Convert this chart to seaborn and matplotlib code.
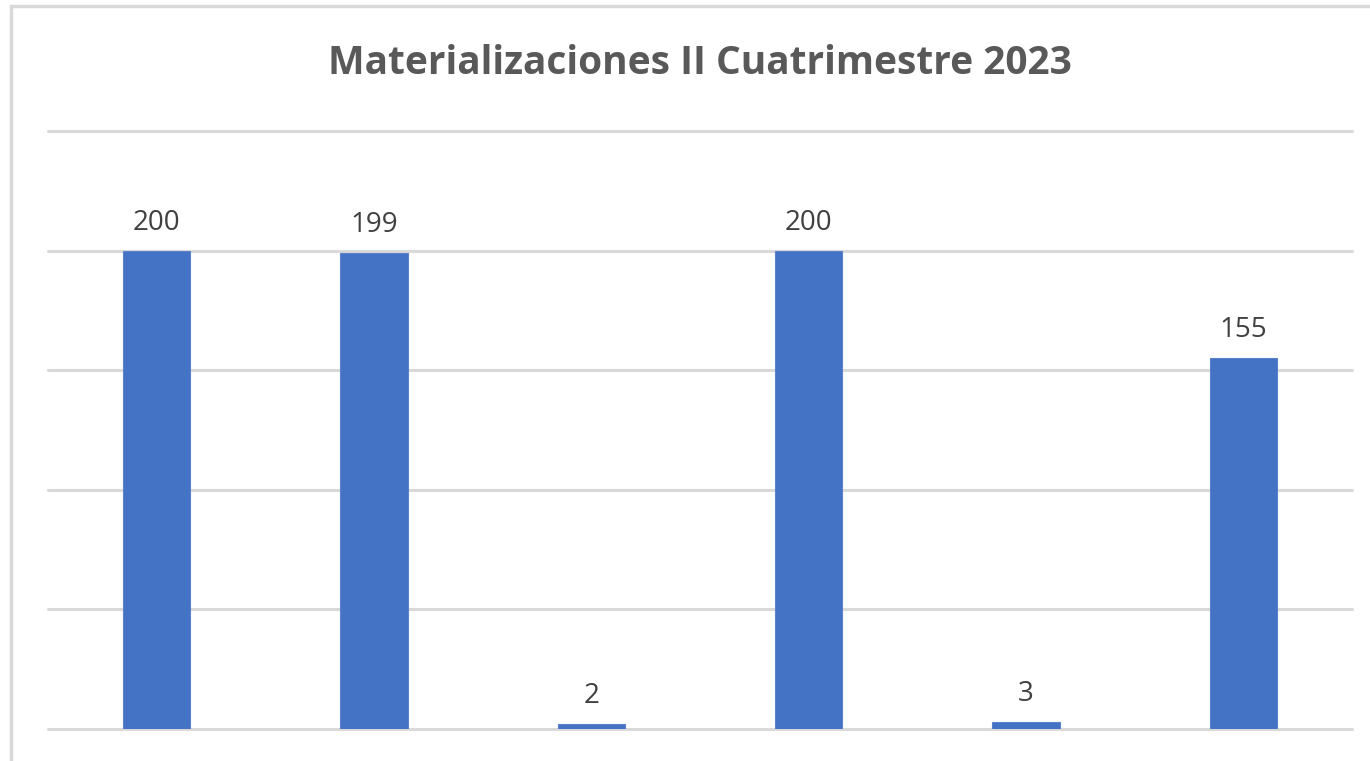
import pandas as pd
import matplotlib.pyplot as plt
import seaborn as sns
from matplotlib.patches import Rectangle

# values (no category labels shown in the original)
categorias = ["c1", "c2", "c3", "c4", "c5", "c6"]
valores = [200, 199, 2, 200, 3, 155]
titulo = "Materializaciones II Cuatrimestre 2023"

sns.set_style("white")
plt.rcParams['font.family'] = ['Open Sans', 'DejaVu Sans']

df = pd.DataFrame({'cat': categorias, 'val': valores})

fig = plt.figure(figsize=(13.7, 7.61), dpi=100)
ax = fig.add_axes([48 / 1370, 1 - 729 / 761, 1304 / 1370, 598 / 761])

sns.barplot(data=df, x='cat', y='val', color='#4472C4', saturation=1,
            width=0.31, ax=ax, zorder=3, edgecolor='#5b83cc', linewidth=0.8)

ax.set_ylim(0, 250)
ax.set_yticks([0, 50, 100, 150, 200, 250])
ax.yaxis.grid(True, color='#d9d9d9', linewidth=2.2, zorder=0)
for gl in ax.get_ygridlines():
    gl.set_clip_on(False)
ax.set_axisbelow(True)
ax.set_xlabel('')
ax.set_ylabel('')
ax.set_xticklabels([])
ax.set_yticklabels([])
ax.tick_params(length=0)
sns.despine(ax=ax, left=True, bottom=True, top=True, right=True)

for c in ax.containers:
    ax.bar_label(c, labels=[str(v) for v in valores], padding=10,
                 fontsize=20, color='#404040')

fig.text(700 / 1370, 1 - 63 / 761, titulo, ha='center', va='center',
         fontsize=28, fontweight='bold', color='#595959')

# outer chart frame (cut off on right and bottom in the original)
fig.patches.append(Rectangle((11 / 1370, -0.05), 1.2, 1 - 6 / 761 + 0.05,
                             transform=fig.transFigure, fill=False,
                             edgecolor='#d9d9d9', linewidth=2.5))

fig.savefig('out.png', dpi=100)
